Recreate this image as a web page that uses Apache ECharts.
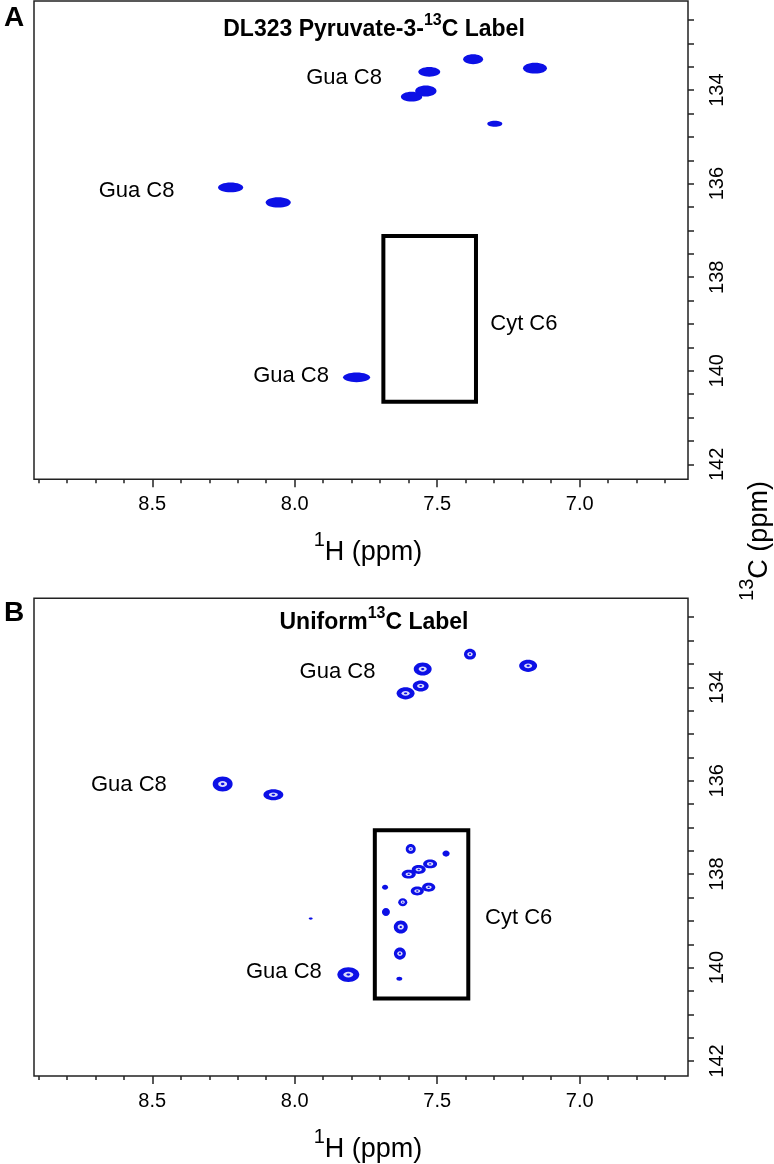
<!DOCTYPE html>
<html><head><meta charset="utf-8">
<script src="https://cdn.jsdelivr.net/npm/echarts@6/dist/echarts.min.js"></script>
<style>html,body{margin:0;padding:0;background:#fff}#c{width:774px;height:1164px}</style>
</head><body><div id="c"></div>
<script>
// ---------- data ----------
const hRange = [6.62, 8.915];          // 1H axis extent (ppm), drawn reversed
const cRange = [132.095, 142.32];      // 13C axis extent (ppm), drawn reversed
const hMinorTicks = [6.7, 6.8, 6.9, 7.0, 7.1, 7.2, 7.3, 7.4, 7.5, 7.6, 7.7, 7.8, 7.9, 8.0, 8.1, 8.2, 8.3, 8.4, 8.5, 8.6, 8.7, 8.8, 8.9];
const hMajorTicks = [7.0, 7.5, 8.0, 8.5];
const cTicks = [132.5, 133, 133.5, 134, 134.5, 135, 135.5, 136, 136.5, 137, 137.5, 138, 138.5, 139, 139.5, 140, 140.5, 141, 141.5, 142];
const cTickLabels = [134, 136, 138, 140, 142];

// peaks: [1H ppm, 13C ppm, 1H linewidth ppm, 13C linewidth ppm]
const peaksA = [
  [7.528, 133.61, 0.077, 0.21],
  [7.374, 133.34, 0.070, 0.21],
  [7.157, 133.53, 0.084, 0.235],
  [7.590, 134.14, 0.075, 0.21],
  [7.540, 134.02, 0.075, 0.235],
  [7.298, 134.72, 0.053, 0.13],
  [8.225, 136.08, 0.088, 0.21],
  [8.058, 136.40, 0.088, 0.22],
  [7.783, 140.14, 0.095, 0.21]
];
const peaksB = [
  [7.551, 133.61, 0.063, 0.28],
  [7.385, 133.29, 0.042, 0.235],
  [7.181, 133.54, 0.063, 0.26],
  [7.611, 134.13, 0.063, 0.26],
  [7.558, 133.97, 0.056, 0.235],
  [8.253, 136.07, 0.070, 0.32],
  [8.075, 136.30, 0.070, 0.235],
  [7.944, 138.95, 0.014, 0.05],
  [7.812, 140.15, 0.077, 0.32],
  [7.593, 137.46, 0.035, 0.21],
  [7.469, 137.56, 0.025, 0.13],
  [7.600, 138.00, 0.049, 0.19],
  [7.565, 137.90, 0.049, 0.19],
  [7.525, 137.78, 0.049, 0.19],
  [7.683, 138.28, 0.021, 0.11],
  [7.570, 138.36, 0.046, 0.19],
  [7.530, 138.28, 0.046, 0.19],
  [7.621, 138.60, 0.032, 0.17],
  [7.680, 138.81, 0.028, 0.17],
  [7.628, 139.13, 0.049, 0.28],
  [7.631, 139.70, 0.042, 0.26],
  [7.633, 140.24, 0.021, 0.085]
];
// boxes: [1H left, 13C top, 1H right, 13C bottom]
const boxA = [[7.689, 137.12, 7.364, 140.66]];
const boxB = [[7.719, 137.06, 7.391, 140.66]];
// annotations
const labelTextA = ['Gua C8', 'Gua C8', 'Gua C8', 'Cyt C6'];
const labelPosA = [[7.827, 133.73], [8.555, 136.15], [8.013, 140.12], [7.196, 139.00]];
const labelTextB = ['Gua C8', 'Gua C8', 'Gua C8', 'Cyt C6'];
const labelPosB = [[7.850, 133.68], [8.582, 136.10], [8.038, 140.09], [7.214, 138.94]];
const titleA = ['DL323 Pyruvate-3-', '13', 'C Label'];
const titleB = ['Uniform', '13', 'C Label'];

// ---------- layout / style ----------
const FONT = '"Liberation Sans", Arial, Helvetica, sans-serif';
const AX = '#222';
const BLUE = '#0c10e6';
const GL = 34, GW = 654, GH = 478.3;
const TOP_A = 1, TOP_B = 598.3;

const nameRich = {
  s: {fontSize: 20, fontFamily: FONT, color: '#000', lineHeight: 12, verticalAlign: 'top'},
  b: {fontSize: 27, fontFamily: FONT, color: '#000', lineHeight: 36, verticalAlign: 'bottom'}
};
const titleRich = {
  s: {fontSize: 16, fontWeight: 'bold', fontFamily: FONT, fill: '#000', lineHeight: 20, verticalAlign: 'top'},
  b: {fontSize: 23, fontWeight: 'bold', fontFamily: FONT, fill: '#000', lineHeight: 28, verticalAlign: 'bottom'}
};

function xAxes(gi) {
  const base = {gridIndex: gi, type: 'value', position: 'bottom', inverse: true,
    min: hRange[0], max: hRange[1], splitLine: {show: false}, axisLine: {show: false}};
  return [
    Object.assign({}, base, {
      axisLabel: {show: false},
      axisTick: {show: true, length: 4, customValues: hMinorTicks, lineStyle: {color: AX, width: 1.5}}
    }),
    Object.assign({}, base, {
      axisTick: {show: true, length: 8, customValues: hMajorTicks, lineStyle: {color: AX, width: 1.5}},
      axisLabel: {customValues: hMajorTicks, formatter: v => v.toFixed(1), fontSize: 20, fontFamily: FONT, color: '#000', margin: 15},
      name: '{s|1}{b|H (ppm)}', nameLocation: 'middle', nameGap: 51,
      nameTextStyle: {rich: nameRich, padding: [0, 0, 0, 14]}
    })
  ];
}
function yAxis(gi) {
  return {gridIndex: gi, type: 'value', position: 'right', inverse: true,
    min: cRange[0], max: cRange[1], splitLine: {show: false}, axisLine: {show: false},
    axisTick: {show: true, length: 6, customValues: cTicks, lineStyle: {color: AX, width: 1.5}},
    axisLabel: {customValues: cTickLabels, rotate: 90, fontSize: 20, fontFamily: FONT, color: '#000', margin: 19}};
}

function peakRender(ring) {
  return function (params, api) {
    const c = api.coord([api.value(0), api.value(1)]);
    const s = api.size([api.value(2), api.value(3)]);
    const rx = Math.abs(s[0]) / 2, ry = Math.abs(s[1]) / 2;
    const ch = [{type: 'ellipse', shape: {cx: c[0], cy: c[1], rx: rx, ry: ry}, style: {fill: BLUE}}];
    if (ring && rx > 4) {
      ch.push({type: 'ellipse', shape: {cx: c[0], cy: c[1], rx: rx * 0.45, ry: ry * 0.4}, style: {fill: '#fff', opacity: 0.85}});
      ch.push({type: 'ellipse', shape: {cx: c[0], cy: c[1], rx: rx * 0.18, ry: ry * 0.16}, style: {fill: BLUE}});
    }
    return {type: 'group', children: ch};
  };
}
function boxRender(params, api) {
  const p1 = api.coord([api.value(0), api.value(1)]);
  const p2 = api.coord([api.value(2), api.value(3)]);
  return {type: 'rect', shape: {x: Math.min(p1[0], p2[0]), y: Math.min(p1[1], p2[1]),
    width: Math.abs(p2[0] - p1[0]), height: Math.abs(p2[1] - p1[1])},
    style: {fill: 'none', stroke: '#000', lineWidth: 4}};
}
function labelRender(texts) {
  return function (params, api) {
    const c = api.coord([api.value(0), api.value(1)]);
    return {type: 'text', x: c[0], y: c[1], style: {text: texts[params.dataIndex], fontSize: 22,
      fontFamily: FONT, fill: '#000', align: 'center', verticalAlign: 'middle'}};
  };
}
function panelSeries(gi, peaks, box, labelPos, labelText, ring) {
  const xi = gi * 2 + 1;
  return [
    {type: 'custom', xAxisIndex: xi, yAxisIndex: gi, renderItem: peakRender(ring), data: peaks, clip: true, z: 3},
    {type: 'custom', xAxisIndex: xi, yAxisIndex: gi, renderItem: boxRender, data: box, z: 4},
    {type: 'custom', xAxisIndex: xi, yAxisIndex: gi, renderItem: labelRender(labelText), data: labelPos, z: 5}
  ];
}
function titleText(parts, x, y) {
  return {type: 'text', x: x, y: y, style: {text: '{b|' + parts[0] + '}{s|' + parts[1] + '}{b|' + parts[2] + '}',
    rich: titleRich, align: 'center', verticalAlign: 'middle'}};
}

const chart = echarts.init(document.getElementById('c'), null, {renderer: 'canvas'});
chart.setOption({
  backgroundColor: '#fff',
  animation: false,
  grid: [
    {left: GL, top: TOP_A, width: GW, height: GH, show: true, borderColor: AX, borderWidth: 1.5, containLabel: false},
    {left: GL, top: TOP_B, width: GW, height: GH, show: true, borderColor: AX, borderWidth: 1.5, containLabel: false}
  ],
  xAxis: xAxes(0).concat(xAxes(1)),
  yAxis: [yAxis(0), yAxis(1)],
  series: panelSeries(0, peaksA, boxA, labelPosA, labelTextA, false)
    .concat(panelSeries(1, peaksB, boxB, labelPosB, labelTextB, true)),
  graphic: [
    {type: 'text', x: 14, y: 18, style: {text: 'A', fontSize: 28, fontWeight: 'bold', fontFamily: FONT, fill: '#000', align: 'center', verticalAlign: 'middle'}},
    {type: 'text', x: 14, y: 613, style: {text: 'B', fontSize: 28, fontWeight: 'bold', fontFamily: FONT, fill: '#000', align: 'center', verticalAlign: 'middle'}},
    titleText(titleA, 374, 27),
    titleText(titleB, 374, 620),
    {type: 'text', x: 755, y: 541, rotation: Math.PI / 2,
      style: {text: '{s|13}{b|C (ppm)}', rich: {
        s: {fontSize: 20, fontFamily: FONT, fill: '#000', lineHeight: 12, verticalAlign: 'top'},
        b: {fontSize: 27, fontFamily: FONT, fill: '#000', lineHeight: 36, verticalAlign: 'bottom'}},
        align: 'center', verticalAlign: 'middle'}}
  ]
});
</script>
</body></html>
